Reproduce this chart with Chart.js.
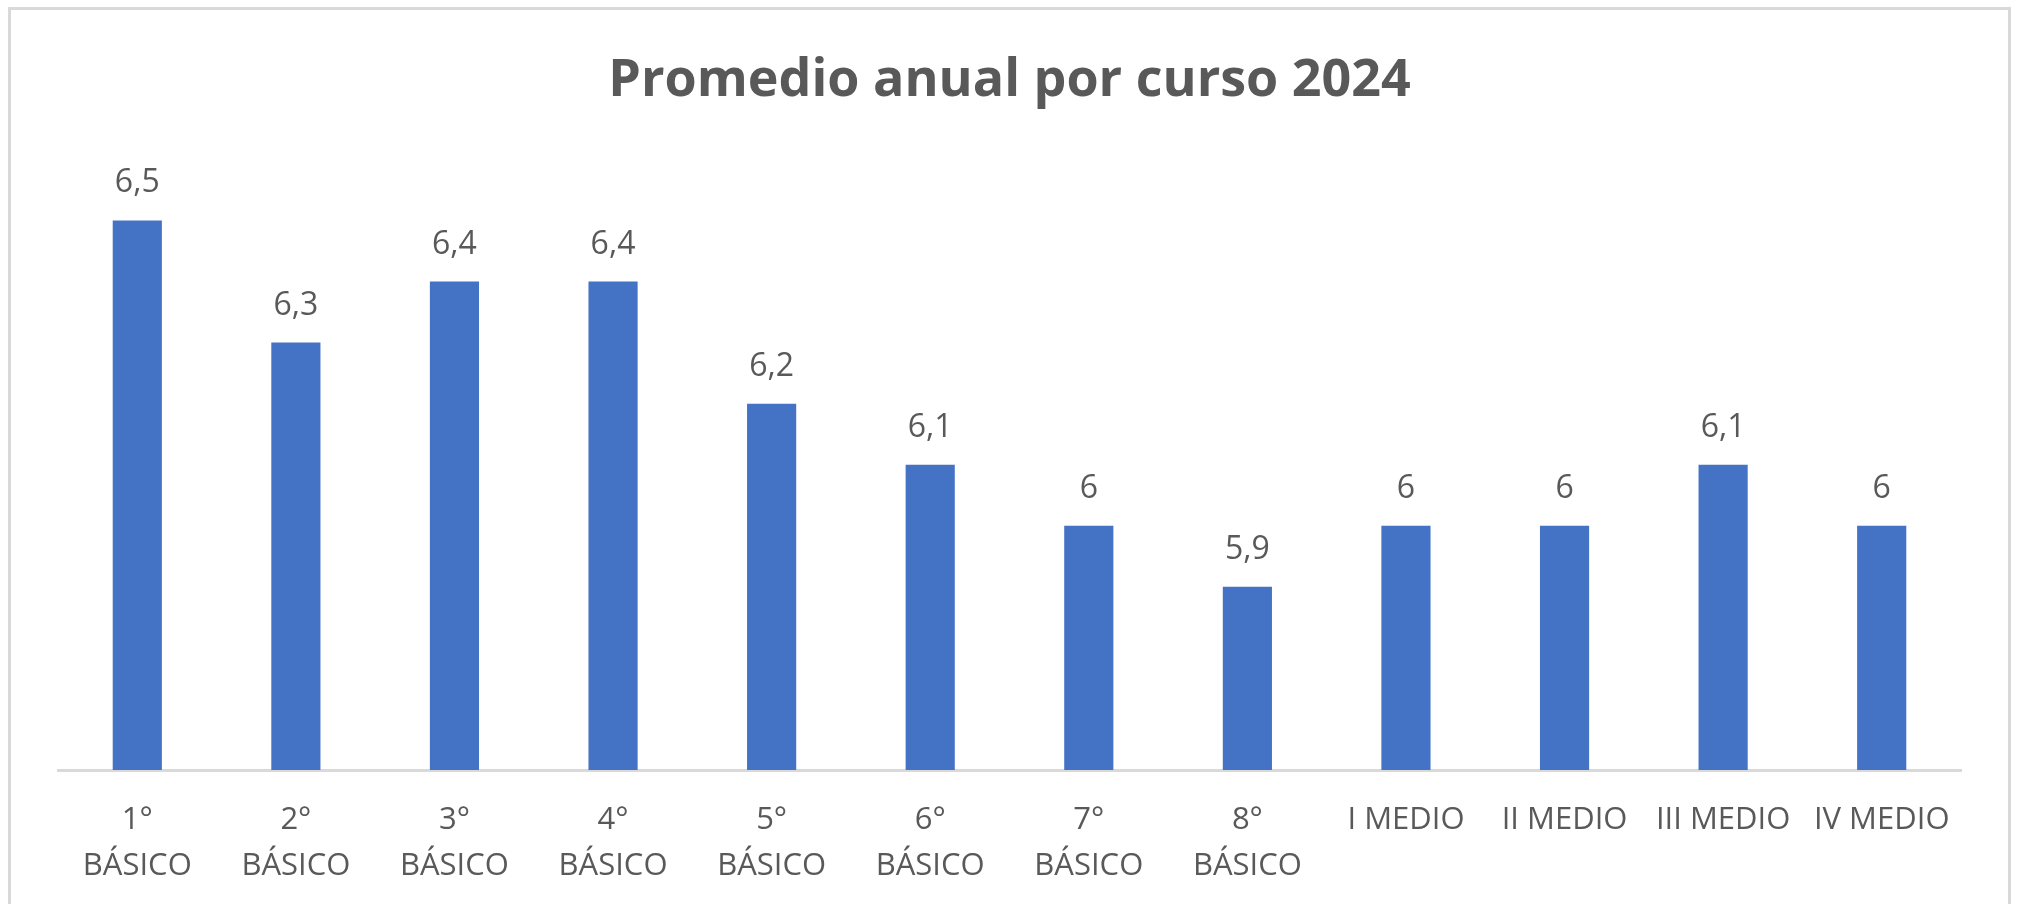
<!DOCTYPE html>
<html>
<head>
<meta charset="utf-8">
<script src="https://cdn.jsdelivr.net/npm/chart.js@4.4.1/dist/chart.umd.min.js"></script>
<style>
  html, body { margin: 0; padding: 0; background: #fff; overflow: hidden; }
  #wrap { position: relative; width: 2023px; height: 904px; }
  #marco { position: absolute; left: 8px; top: 7px; width: 1997px; height: 1000px; border: 3px solid #d9d9d9; pointer-events: none; }
</style>
</head>
<body>
<div id="wrap">
  <canvas id="grafico"></canvas>
  <div id="marco"></div>
</div>
<script>
// Datos del gráfico
var cursos = [
    ["1°", "BÁSICO"], ["2°", "BÁSICO"], ["3°", "BÁSICO"], ["4°", "BÁSICO"],
    ["5°", "BÁSICO"], ["6°", "BÁSICO"], ["7°", "BÁSICO"], ["8°", "BÁSICO"],
    "I MEDIO", "II MEDIO", "III MEDIO", "IV MEDIO"
];
var promedios = [6.5, 6.3, 6.4, 6.4, 6.2, 6.1, 6.0, 5.9, 6.0, 6.0, 6.1, 6.0];
var ejeMin = 5.6;
var ejeMax = 6.6;

var gris = "#595959";

// etiquetas de valor sobre cada barra (con coma decimal)
var etiquetasValor = {
    id: "etiquetasValor",
    afterDatasetsDraw: function(chart) {
        var ctx = chart.ctx;
        var meta = chart.getDatasetMeta(0);
        ctx.save();
        ctx.font = "32px 'Open Sans'";
        ctx.fillStyle = gris;
        ctx.textAlign = "center";
        ctx.textBaseline = "alphabetic";
        meta.data.forEach(function(bar, i) {
            var txt = String(promedios[i]).replace(".", ",");
            ctx.fillText(txt, bar.x, bar.y - 28);
        });
        ctx.restore();
    }
};

var ctx = document.getElementById("grafico").getContext("2d");
var grafico = new Chart(ctx, {
    type: "bar",
    data: {
        labels: cursos,
        datasets: [{
            data: promedios,
            backgroundColor: "#4472C4",
            barPercentage: 0.31,
            categoryPercentage: 1
        }]
    },
    options: {
        responsive: true,
        maintainAspectRatio: false,
        animation: false,
        layout: { padding: { left: 58, right: 62, top: 0, bottom: 0 } },
        plugins: {
            legend: { display: false },
            tooltip: { enabled: false },
            title: {
                display: true,
                text: "Promedio anual por curso 2024",
                color: gris,
                font: { family: "'Open Sans'", size: 52, weight: "bold", lineHeight: 1.2 },
                padding: { top: 50, bottom: 47 }
            }
        },
        scales: {
            x: {
                grid: { display: false, drawTicks: false },
                border: { display: true, color: "#d9d9d9", width: 3 },
                ticks: {
                    color: gris,
                    font: { family: "'Open Sans'", size: 31, lineHeight: 1.48 },
                    padding: 27,
                    autoSkip: false,
                    maxRotation: 0
                },
                afterFit: function(scale) { scale.height = 134; }
            },
            y: {
                display: false,
                min: ejeMin,
                max: ejeMax
            }
        }
    },
    plugins: [etiquetasValor]
});
</script>
</body>
</html>
